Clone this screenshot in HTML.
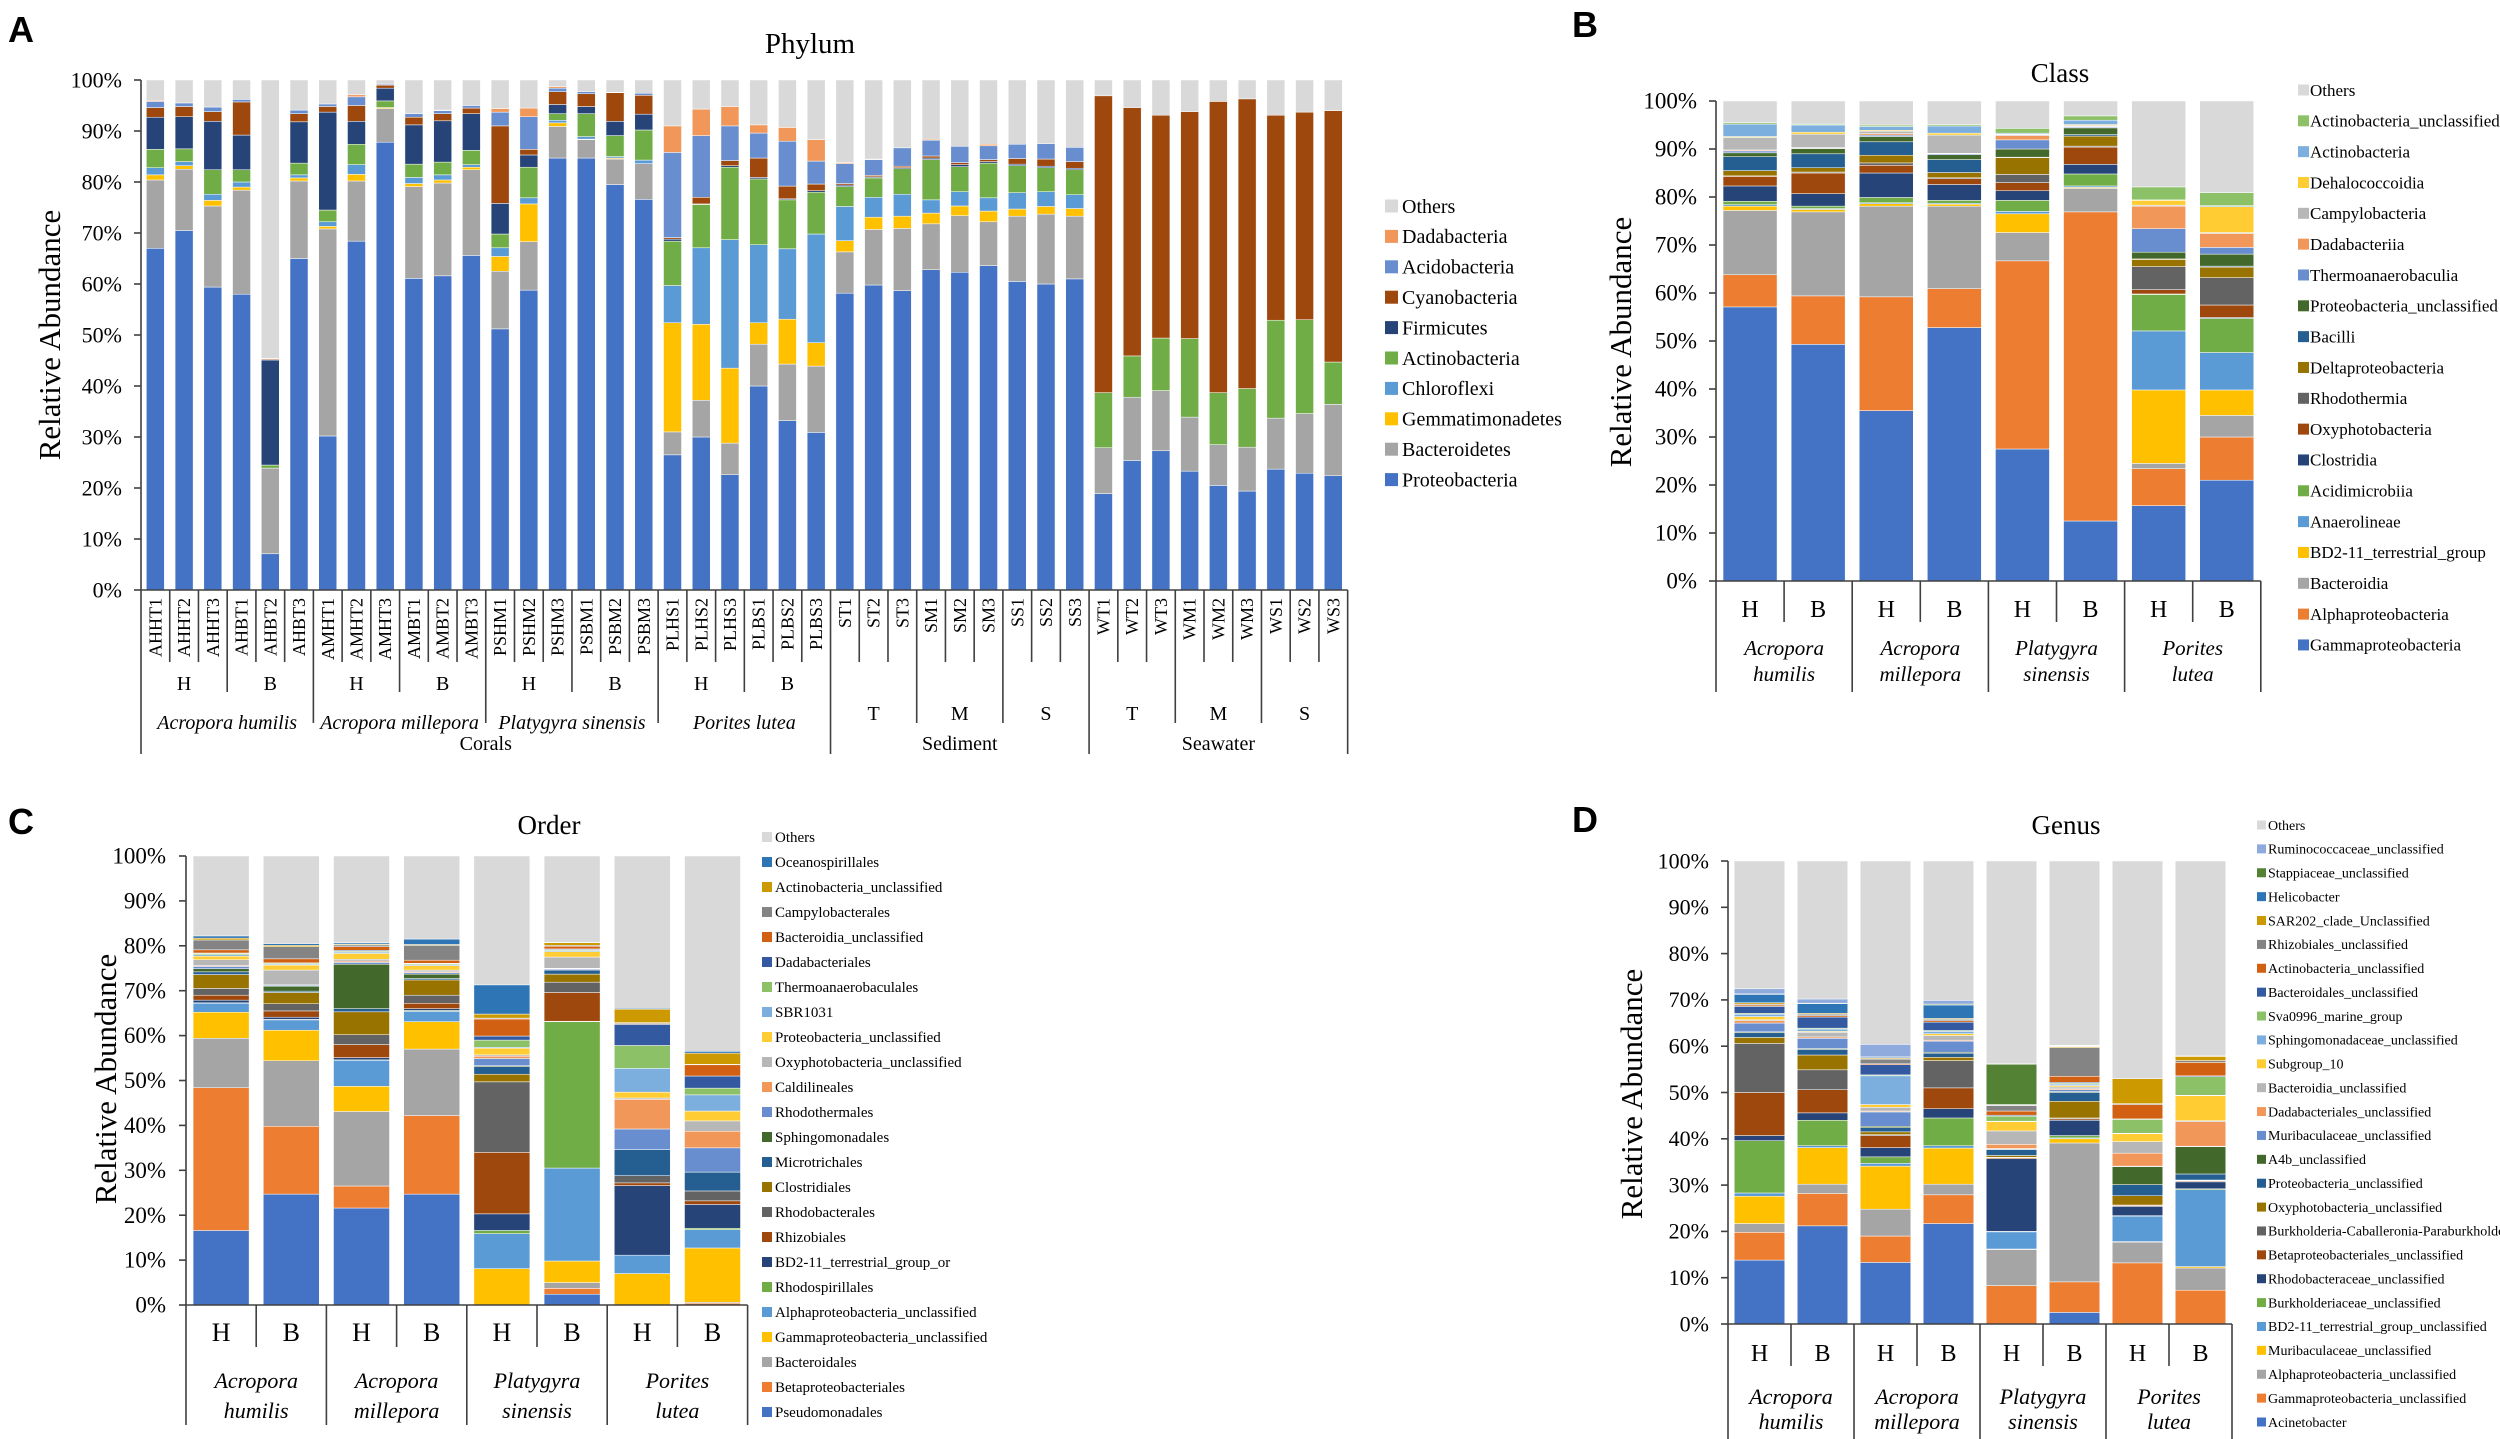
<!DOCTYPE html>
<html><head><meta charset="utf-8"><style>
html,body{margin:0;padding:0;background:#fff;}
svg{display:block;font-family:"Liberation Serif",serif;}
</style></head>
<body>
<svg id="fig" width="2500" height="1439" viewBox="0 0 2500 1439" xmlns="http://www.w3.org/2000/svg"></svg>
<script>
// ---------- common ----------
const tickValues = [0,10,20,30,40,50,60,70,80,90,100];
const tickLabels = ['0%','10%','20%','30%','40%','50%','60%','70%','80%','90%','100%'];
const OTHERS_COLOR = '#D9D9D9';

// ---------- Panel A: Phylum ----------
const A_series = ['Proteobacteria','Bacteroidetes','Gemmatimonadetes','Chloroflexi','Actinobacteria','Firmicutes','Cyanobacteria','Acidobacteria','Dadabacteria'];
const A_colors = ['#4472C4','#A5A5A5','#FFC000','#5B9BD5','#70AD47','#264478','#9E480E','#698ED0','#F1975A'];
const A_samples = ['AHHT1','AHHT2','AHHT3','AHBT1','AHBT2','AHBT3','AMHT1','AMHT2','AMHT3','AMBT1','AMBT2','AMBT3','PSHM1','PSHM2','PSHM3','PSBM1','PSBM2','PSBM3','PLHS1','PLHS2','PLHS3','PLBS1','PLBS2','PLBS3','ST1','ST2','ST3','SM1','SM2','SM3','SS1','SS2','SS3','WT1','WT2','WT3','WM1','WM2','WM3','WS1','WS2','WS3'];
const A_AHHT1=[67,13.4,1,1.4,3.6,6.3,1.9,1.2,0.2];
const A_AHHT2=[70.5,12,0.7,0.8,2.5,6.3,2,0.7,0];
const A_AHHT3=[59.4,15.9,1.1,1.2,4.8,9.5,1.9,0.9,0];
const A_AHBT1=[58,20.4,0.6,1,2.4,6.8,6.5,0.5,0];
const A_AHBT2=[7.1,16.8,0,0,0.6,20.6,0.2,0,0.1];
const A_AHBT3=[65,15.2,0.6,0.6,2.3,8.1,1.6,0.7,0];
const A_AMHT1=[30.2,40.6,0.5,0.9,2.3,19.2,1.1,0.5,0];
const A_AMHT2=[68.4,11.8,1.3,1.9,4,4.5,3.1,1.7,0.4];
const A_AMHT3=[87.8,6.6,0.2,0,1.3,2.5,0.6,0.2,0];
const A_AMBT1=[61.1,18,0.6,1.2,2.6,7.7,1.5,0.7,0];
const A_AMBT2=[61.6,18.2,0.6,1,2.5,8.1,1.4,0.6,0.1];
const A_AMBT3=[65.6,16.8,0.5,0.5,2.8,7.2,1.1,0.5,0];
const A_PSHM1=[51.2,11.3,2.9,1.7,2.7,6,15.2,2.7,0.7];
const A_PSHM2=[58.8,9.5,7.4,1.2,6,2.4,1.1,6.4,1.7];
const A_PSHM3=[84.7,6.2,0.7,0.5,1.3,1.8,2.5,0.7,0.3];
const A_PSBM1=[84.7,3.6,0.1,0.5,4.5,1.4,2.5,0.4,0];
const A_PSBM2=[79.5,5,0.2,0.3,4.1,2.8,5.6,0.1,0];
const A_PSBM3=[76.6,7,0,0.7,5.9,3.1,3.7,0.4,0];
const A_PLHS1=[26.5,4.5,21.4,7.3,8.7,0.4,0.3,16.7,5.2];
const A_PLHS2=[30,7.2,14.9,15,8.5,0.1,1.3,12.1,5.2];
const A_PLHS3=[22.6,6.2,14.7,25.2,14.2,0.3,1,6.8,3.8];
const A_PLBS1=[40,8.2,4.2,15.3,12.9,0.3,3.8,4.9,1.6];
const A_PLBS2=[33.2,11.1,8.8,13.8,9.6,0.2,2.5,8.8,2.7];
const A_PLBS3=[30.9,13,4.6,21.3,8.2,0.3,1.3,4.5,4.2];
const A_ST1=[58.2,8.1,2.2,6.7,3.9,0.3,0.3,3.9,0.2];
const A_ST2=[59.8,10.9,2.4,3.9,3.8,0.2,0.3,3.1,0.1];
const A_ST3=[58.7,12.2,2.4,4.3,5,0.2,0.3,3.6,0];
const A_SM1=[62.8,9,2.1,2.6,7.9,0.3,0.4,3.1,0.2];
const A_SM2=[62.3,11.1,1.9,2.8,4.9,0.4,0.4,3.2,0];
const A_SM3=[63.6,8.6,2.1,2.6,6.8,0.3,0.4,2.7,0.3];
const A_SS1=[60.5,12.8,1.4,3.2,5.3,0.3,1.1,2.8,0];
const A_SS2=[60,13.7,1.5,2.9,4.7,0.3,1.4,3,0];
const A_SS3=[61,12.3,1.5,2.7,4.9,0.3,1.3,2.8,0];
const A_WT1=[18.9,9,0,0,10.8,0,58.2,0,0];
const A_WT2=[25.4,12.4,0,0,8.1,0,48.7,0,0];
const A_WT3=[27.3,11.8,0,0,10.3,0,43.7,0,0];
const A_WM1=[23.3,10.6,0,0,15.4,0,44.5,0,0];
const A_WM2=[20.5,8,0,0,10.2,0,57.1,0,0];
const A_WM3=[19.4,8.6,0,0,11.5,0,56.8,0,0];
const A_WS1=[23.7,10,0,0,19.2,0,40.2,0,0];
const A_WS2=[22.9,11.7,0,0,18.4,0,40.7,0,0];
const A_WS3=[22.4,14,0,0,8.3,0,49.3,0,0];
const A_bars=[A_AHHT1,A_AHHT2,A_AHHT3,A_AHBT1,A_AHBT2,A_AHBT3,A_AMHT1,A_AMHT2,A_AMHT3,A_AMBT1,A_AMBT2,A_AMBT3,A_PSHM1,A_PSHM2,A_PSHM3,A_PSBM1,A_PSBM2,A_PSBM3,A_PLHS1,A_PLHS2,A_PLHS3,A_PLBS1,A_PLBS2,A_PLBS3,A_ST1,A_ST2,A_ST3,A_SM1,A_SM2,A_SM3,A_SS1,A_SS2,A_SS3,A_WT1,A_WT2,A_WT3,A_WM1,A_WM2,A_WM3,A_WS1,A_WS2,A_WS3];

// ---------- Panel B: Class ----------
const B_series = ['Gammaproteobacteria','Alphaproteobacteria','Bacteroidia','BD2-11_terrestrial_group','Anaerolineae','Acidimicrobiia','Clostridia','Oxyphotobacteria','Rhodothermia','Deltaproteobacteria','Bacilli','Proteobacteria_unclassified','Thermoanaerobaculia','Dadabacteriia','Campylobacteria','Dehalococcoidia','Actinobacteria','Actinobacteria_unclassified'];
const B_colors = ['#4472C4','#ED7D31','#A5A5A5','#FFC000','#5B9BD5','#70AD47','#264478','#9E480E','#636363','#997300','#255E91','#43682B','#698ED0','#F1975A','#B7B7B7','#FFCD33','#7CAFDD','#8CC168'];
const B_AH_H=[57.1,6.7,13.4,0.9,0.3,0.7,3.2,2,0.1,1.1,2.9,0.8,0.4,0.2,2.6,0.2,2.6,0.3];
const B_AH_B=[49.3,10.1,17.5,0.5,0.2,0.5,2.6,4.3,0.2,0.9,2.9,1.1,0.1,0.1,2.8,0.4,1.5,0.2];
const B_AM_H=[35.5,23.7,18.9,0.5,0.2,1.1,5.1,1.6,0.5,1.6,2.8,1.1,0.3,0.3,0.5,0.2,0.8,0.3];
const B_AM_B=[52.8,8.1,17.2,0.4,0.2,0.6,3.3,1.2,0.2,1.1,2.7,1,0.2,0.1,3.8,0.4,1.5,0.3];
const B_PS_H=[27.5,39.2,5.9,3.9,0.5,2.3,2,1.7,1.7,3.5,0.1,1.7,1.9,0.9,0.2,0.1,0.2,1.0];
const B_PS_B=[12.5,64.4,4.9,0.2,0.3,2.5,2,3.6,0.2,2.1,0.3,1.4,0.2,0.1,0.2,0.2,0.9,0.9];
const B_PL_H=[15.7,7.7,1.1,15.3,12.3,7.6,0.1,0.9,4.8,1.5,0.1,1.4,4.9,4.7,0.2,1,0.1,2.7];
const B_PL_B=[21,9,4.5,5.3,7.8,7.1,0.2,2.6,5.7,2.2,0.2,2.5,1.4,2.9,0.2,5.4,0.2,2.7];
const B_bars=[B_AH_H,B_AH_B,B_AM_H,B_AM_B,B_PS_H,B_PS_B,B_PL_H,B_PL_B];

// ---------- Panel C: Order ----------
const C_series = ['Pseudomonadales','Betaproteobacteriales','Bacteroidales','Gammaproteobacteria_unclassified','Alphaproteobacteria_unclassified','Rhodospirillales','BD2-11_terrestrial_group_or','Rhizobiales','Rhodobacterales','Clostridiales','Microtrichales','Sphingomonadales','Rhodothermales','Caldilineales','Oxyphotobacteria_unclassified','Proteobacteria_unclassified','SBR1031','Thermoanaerobaculales','Dadabacteriales','Bacteroidia_unclassified','Campylobacterales','Actinobacteria_unclassified','Oceanospirillales'];
const C_colors = ['#4472C4','#ED7D31','#A5A5A5','#FFC000','#5B9BD5','#70AD47','#264478','#9E480E','#636363','#997300','#255E91','#43682B','#698ED0','#F1975A','#B7B7B7','#FFCD33','#7CAFDD','#8CC168','#335AA1','#D26012','#848484','#CC9A00','#2E75B6'];
const C_AH_H=[16.6,31.8,11,5.8,2,0.1,0.6,1.1,1.5,3.1,0.6,0.7,0.5,0.2,1.3,0.8,0.3,0.3,0.1,0.7,2.2,0.4,0.5];
const C_AH_B=[24.7,15.1,14.6,6.8,2.3,0.1,0.5,1.4,1.6,2.5,0.3,1.1,0.2,0.1,3.3,1.1,0.2,0.2,0.1,0.9,2.7,0.3,0.4];
const C_AM_H=[21.6,4.9,16.6,5.6,5.8,0.1,0.5,2.9,2.2,5.1,0.7,9.9,0.4,0.3,0.4,1.3,0.3,0.2,0.2,0.8,0.4,0.2,0.3];
const C_AM_B=[24.7,17.5,14.8,6.1,2.3,0.2,0.4,1.2,1.8,3.4,0.3,1,0.3,0.2,0.4,1,0.2,0.2,0.1,0.7,3.3,0.2,1.2];
const C_PS_H=[0,0,0,8.1,7.8,0.7,3.7,13.7,15.7,1.7,1.7,0.2,1.6,0.5,0.3,1.5,0.2,1.6,0.9,3.8,0.2,0.9,6.5];
const C_PS_B=[2.4,1.3,1.3,4.8,20.7,32.6,0.1,6.4,2.3,1.8,0.9,0.1,0.2,0.1,2.5,1.2,0.2,0.2,0.2,0.6,0.2,0.6,0.1];
const C_PL_H=[0,0,0,7,4.1,0,15.5,0.6,1.6,0,5.8,0,4.6,6.6,0.3,1.3,5.3,5.1,4.7,0.2,0.2,3,0.2];
const C_PL_B=[0,0.4,0.2,12.1,4.1,0.3,5.3,0.8,2.2,0,4.2,0,5.4,3.7,2.3,2.2,3.6,1.5,2.7,2.5,0.1,2.5,0.4];
const C_bars=[C_AH_H,C_AH_B,C_AM_H,C_AM_B,C_PS_H,C_PS_B,C_PL_H,C_PL_B];

// ---------- Panel D: Genus ----------
const D_series = ['Acinetobacter','Gammaproteobacteria_unclassified','Alphaproteobacteria_unclassified','Muribaculaceae_unclassified','BD2-11_terrestrial_group_unclassified','Burkholderiaceae_unclassified','Rhodobacteraceae_unclassified','Betaproteobacteriales_unclassified','Burkholderia-Caballeronia-Paraburkholderia','Oxyphotobacteria_unclassified','Proteobacteria_unclassified','A4b_unclassified','Muribaculaceae_unclassified','Dadabacteriales_unclassified','Bacteroidia_unclassified','Subgroup_10','Sphingomonadaceae_unclassified','Sva0996_marine_group','Bacteroidales_unclassified','Actinobacteria_unclassified','Rhizobiales_unclassified','SAR202_clade_Unclassified','Helicobacter','Stappiaceae_unclassified','Ruminococcaceae_unclassified'];
const D_colors = ['#4472C4','#ED7D31','#A5A5A5','#FFC000','#5B9BD5','#70AD47','#264478','#9E480E','#636363','#997300','#255E91','#43682B','#698ED0','#F1975A','#B7B7B7','#FFCD33','#7CAFDD','#8CC168','#335AA1','#D26012','#848484','#CC9A00','#2E75B6','#548235','#8FAADC'];
const D_AH_H=[13.8,6,1.9,5.9,0.7,11.3,1.1,9.3,10.6,1.3,1,0.2,1.9,0.5,0.2,0.7,0.5,0.2,1.5,0.3,0.2,0.3,1.8,0.1,1.1];
const D_AH_B=[21.2,7,2,7.9,0.4,5.5,1.6,5,4.3,3.2,1.2,0.2,2.2,0.3,1,0.2,0.5,0.2,2.4,0.3,0.3,0.2,2.1,0.1,0.9];
const D_AM_H=[13.3,5.7,5.8,9.3,0.6,1.4,2,2.6,0.2,0.6,0.9,0.3,3.1,0.2,0.8,0.6,6.2,0.2,2.2,0.2,1,0.2,0.2,0.1,2.7];
const D_AM_B=[21.7,6.2,2.3,7.8,0.5,6,2,4.5,5.9,0.7,0.9,0.2,2.4,0.2,1,0.4,0.5,0.2,1.8,0.3,0.3,0.2,2.9,0.2,0.8];
const D_PS_H=[0,8.3,7.8,0.1,3.7,0.1,15.7,0.2,0.1,0.4,1.3,0.1,0.1,0.9,2.9,2,0.1,1.1,0.2,0.9,1.2,0.1,0.1,8.7,0.1];
const D_PS_B=[2.5,6.6,30,0.9,0.2,0.5,3.3,0.3,0.2,3.6,1.9,0.2,0.4,0.2,0.4,0.3,0.3,0.2,0.2,1.3,6.2,0.2,0.1,0.1,0.1];
const D_PL_H=[0,13.2,4.5,0.1,5.5,0.1,2,0.2,0.1,2,2.4,3.9,0.1,2.8,2.5,1.7,0.1,3,0.1,3.1,0.2,5.4,0,0,0];
const D_PL_B=[0,7.3,4.8,0.3,16.6,0.2,1.5,0.2,0.1,0.1,1.3,5.9,0.1,5.3,0.2,5.4,0.1,4,0.2,2.9,0.4,0.9,0.1,0,0];
const D_bars=[D_AH_H,D_AH_B,D_AM_H,D_AM_B,D_PS_H,D_PS_B,D_PL_H,D_PL_B];

const speciesLines = [['Acropora','humilis'],['Acropora','millepora'],['Platygyra','sinensis'],['Porites','lutea']];

// ---------- helpers ----------
const NS='http://www.w3.org/2000/svg';
const svg=document.getElementById('fig');
function mk(tag, parent){const e=document.createElementNS(NS,tag);(parent||svg).appendChild(e);return e;}
function line(p,x1,y1,x2,y2,name,col,w){
  const l=mk('line',p);
  l.setAttribute('x1',x1);l.setAttribute('y1',y1);l.setAttribute('x2',x2);l.setAttribute('y2',y2);
  l.setAttribute('stroke',col||'#404040');l.setAttribute('stroke-width',w||1.6);
  
  
  return l;
}
function txt(p,x,y,s,size,name,opts){
  opts=opts||{};
  const t=mk('text',p);
  t.setAttribute('x',x);t.setAttribute('y',y);t.setAttribute('font-size',size);
  t.setAttribute('text-anchor',opts.anchor||'middle');
  t.setAttribute('fill','#000');
  if(opts.italic)t.setAttribute('font-style','italic');
  if(opts.bold)t.setAttribute('font-weight','bold');
  if(opts.sans)t.setAttribute('font-family','"Liberation Sans",sans-serif');
  if(opts.rot)t.setAttribute('transform','rotate(-90 '+x+' '+y+')');
  t.textContent=s;
  
  
  return t;
}

function drawPanel(cfg){
  const g=mk('g');
  
  
  const yScale=v=>cfg.y0-(v/100)*(cfg.y0-cfg.y100);
  const xSlot=i=>cfg.axisX+i*cfg.slot;
  // bars
  cfg.bars.forEach((vals,i)=>{
    const bg=mk('g',g);
    
    
    let cum=0;
    const x=xSlot(i)+(cfg.slot-cfg.bw)/2;
    const segs=vals.map((v,k)=>({v:v,c:cfg.colors[k],n:cfg.series[k]}));
    const sum=vals.reduce((a,b)=>a+b,0);
    segs.push({v:Math.max(0,100-sum),c:OTHERS_COLOR,n:'Others'});
    segs.forEach(s=>{
      if(s.v<=0)return;
      const r=mk('rect',bg);
      const yTop=yScale(cum+s.v), yBot=yScale(cum);
      r.setAttribute('x',x);r.setAttribute('width',cfg.bw);
      r.setAttribute('y',yTop);r.setAttribute('height',Math.max(0,yBot-yTop));
      r.setAttribute('fill',s.c);
      r.setAttribute('stroke','#fff');r.setAttribute('stroke-width',0.5);
      
      
      cum+=s.v;
    });
  });
  // y axis
  line(g,cfg.axisX,cfg.y100,cfg.axisX,cfg.y0,'y-axis-line');
  line(g,cfg.axisX,cfg.y0,xSlot(cfg.bars.length),cfg.y0,'x-axis-line');
  tickValues.forEach((v,k)=>{
    const y=yScale(v);
    line(g,cfg.axisX-7,y,cfg.axisX,y,'y-tick');
    txt(g,cfg.tickX,y+cfg.tickSize*0.33,tickLabels[k],cfg.tickSize,'y-tick-label',{anchor:'end'});
  });
  txt(g,cfg.ylabX,cfg.ylabY,'Relative Abundance',cfg.ylabSize,'y-axis-title',{rot:true});
  txt(g,cfg.titleX,cfg.titleY,cfg.title,cfg.titleSize,'chart-title');
  txt(g,cfg.letterX,cfg.letterY,cfg.letter,36,'panel-letter',{bold:true,sans:true,anchor:'start'});
  // legend
  const names=['Others'].concat(cfg.series.slice().reverse());
  const cols=[OTHERS_COLOR].concat(cfg.colors.slice().reverse());
  names.forEach((n,k)=>{
    const y=cfg.legY+k*cfg.legStep;
    const lg=mk('g',g);
    
    
    const r=mk('rect',lg);
    r.setAttribute('x',cfg.legX);r.setAttribute('y',y-cfg.legSw/2);
    r.setAttribute('width',cfg.legSw);r.setAttribute('height',cfg.legSw);r.setAttribute('fill',cols[k]);
    
    
    txt(lg,cfg.legTX,y+cfg.legFont*0.34,n,cfg.legFont,'legend-label',{anchor:'start'});
  });
  return {g:g,xSlot:xSlot};
}

// ---------- Panel A ----------
const pA=drawPanel({name:'phylum-chart',bars:A_bars,series:A_series,colors:A_colors,cats:A_samples,
  axisX:141,slot:28.73,bw:18,y0:590,y100:80,tickX:122,tickSize:22,ylabX:60,ylabY:335,ylabSize:31,
  title:'Phylum',titleX:810,titleY:53,titleSize:29,letter:'A',letterX:8,letterY:42,
  legX:1385,legTX:1402,legY:206,legStep:30.4,legSw:13,legFont:20});
(function(){
  const g=pA.g, X=pA.xSlot;
  A_samples.forEach((s,i)=>{
    txt(g,X(i)+14.4+6,598,s,18,'sample-label',{anchor:'end',rot:true});
  });
  for(let i=0;i<=42;i++){
    let bot;
    if(i===0||i===24||i===33||i===42)bot=754;
    else if(i%3!==0)bot=662;
    else if(i<24&&i%6===3)bot=692;
    else bot=723;
    if(i===0)continue;
    line(g,X(i),590,X(i),bot,'category-divider');
  }
  line(g,X(0),590,X(0),754,'category-divider');
  for(let k=0;k<8;k++)txt(g,X(k*3+1.5),690,k%2?'B':'H',20,'treatment-label');
  const sp=['Acropora humilis','Acropora millepora','Platygyra sinensis','Porites lutea'];
  sp.forEach((s,k)=>txt(g,X(k*6+3),729,s,20,'species-label',{italic:true}));
  ['T','M','S','T','M','S'].forEach((s,k)=>txt(g,X(24+k*3+1.5),720,s,20,'depth-label'));
  txt(g,X(12),750,'Corals',20,'group-label');
  txt(g,X(28.5),750,'Sediment',20,'group-label');
  txt(g,X(37.5),750,'Seawater',20,'group-label');
})();

// ---------- small panels ----------
function smallAxis(p,y0,hbBot,spBot,hbY,hbSize,sp1,sp2,spSize){
  const g=p.g,X=p.xSlot;
  for(let i=0;i<=8;i++){
    line(g,X(i),y0,X(i),i%2?hbBot:spBot,'category-divider');
  }
  for(let k=0;k<8;k++)txt(g,X(k+0.5),hbY,k%2?'B':'H',hbSize,'treatment-label');
  speciesLines.forEach((s,k)=>{
    txt(g,X(k*2+1),sp1,s[0],spSize,'species-label',{italic:true});
    txt(g,X(k*2+1),sp2,s[1],spSize,'species-label',{italic:true});
  });
}
const cats8=['AH-H','AH-B','AM-H','AM-B','PS-H','PS-B','PL-H','PL-B'];
const pB=drawPanel({name:'class-chart',bars:B_bars,series:B_series,colors:B_colors,cats:cats8,
  axisX:1716,slot:68.1,bw:54,y0:581,y100:101,tickX:1697,tickSize:23,ylabX:1631,ylabY:342,ylabSize:31,
  title:'Class',titleX:2060,titleY:82,titleSize:27,letter:'B',letterX:1572,letterY:37,
  legX:2298,legTX:2310,legY:90,legStep:30.83,legSw:11,legFont:17});
smallAxis(pB,581,622,692,617,24,655,681,21);

const pC=drawPanel({name:'order-chart',bars:C_bars,series:C_series,colors:C_colors,cats:cats8,
  axisX:186,slot:70.2,bw:56,y0:1305,y100:856,tickX:166,tickSize:23,ylabX:116,ylabY:1079,ylabSize:31,
  title:'Order',titleX:549,titleY:834,titleSize:27,letter:'C',letterX:8,letterY:834,
  legX:762,legTX:775,legY:837,legStep:25.0,legSw:10,legFont:15});
smallAxis(pC,1305,1347,1425,1341,26,1388,1418,22);

const pD=drawPanel({name:'genus-chart',bars:D_bars,series:D_series,colors:D_colors,cats:cats8,
  axisX:1728,slot:63,bw:50.5,y0:1324,y100:861,tickX:1709,tickSize:22,ylabX:1642,ylabY:1094,ylabSize:31,
  title:'Genus',titleX:2066,titleY:834,titleSize:27,letter:'D',letterX:1572,letterY:832,
  legX:2257,legTX:2268,legY:825,legStep:23.88,legSw:9,legFont:14});
smallAxis(pD,1324,1366,1439,1361,24,1404,1429,22);
</script>
</body></html>
